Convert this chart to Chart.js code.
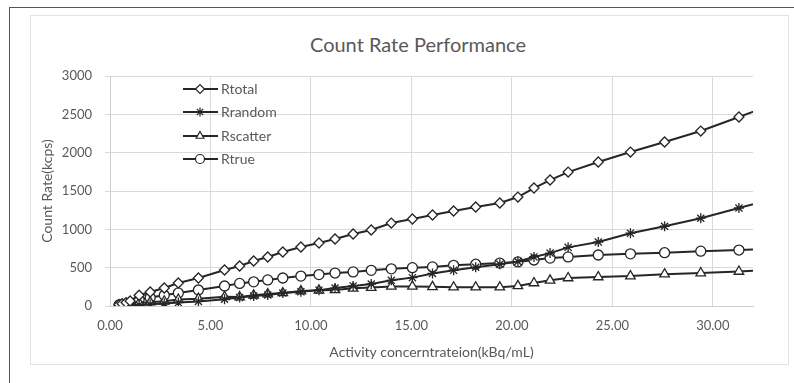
<!DOCTYPE html>
<html>
<head>
<meta charset="utf-8">
<script src="https://cdn.jsdelivr.net/npm/chart.js@4.4.1/dist/chart.umd.min.js"></script>
<style>
    html, body { margin: 0; padding: 0; background: #fff; }
    #wrap { position: relative; width: 794px; height: 383px; overflow: hidden; }
    #outer { position: absolute; left: 9px; top: 7px; width: 800px; height: 400px; border-top: 1px solid #555; border-left: 1px solid #555; }
    #inner { position: absolute; left: 30px; top: 15px; width: 757px; height: 348px; border: 1px solid #e2e2e2; }
    #title { position: absolute; left: 0; top: 32px; width: 836px; text-align: center; font: 20px Lato, sans-serif; color: #595959; }
    canvas { position: absolute; left: 0; top: 0; }
</style>
</head>
<body>
<div id="wrap">
    <div id="outer"></div>
    <div id="inner"></div>
    <div id="title">Count Rate Performance</div>
    <canvas id="chart" width="794" height="383"></canvas>
</div>
<script>
// --- Data (kBq/mL, kcps) ---
const activity = [0.45, 0.6, 0.8, 1.0, 1.45, 2.0, 2.7, 3.4, 4.4, 5.7, 6.45, 7.15, 7.85, 8.6, 9.5, 10.4, 11.2, 12.1, 13.0, 14.0,
    15.05, 16.05, 17.1, 18.2, 19.4, 20.3, 21.1, 21.9, 22.8, 24.3, 25.9, 27.6, 29.4, 31.3, 33.0];
const rTotal = [20, 30, 45, 65, 140, 183, 235, 300, 365, 469, 522, 587, 639, 704, 769, 822, 874, 939, 991, 1082,
    1135, 1187, 1239, 1291, 1343, 1421, 1539, 1643, 1747, 1878, 2008, 2139, 2282, 2465, 2630];
const rRandom = [2, 3, 5, 7, 14, 22, 33, 45, 60, 88, 110, 130, 143, 168, 185, 207, 234, 262, 287, 335,
    370, 425, 465, 505, 545, 580, 640, 690, 765, 835, 950, 1040, 1145, 1278, 1395];
const rScatter = [5, 8, 12, 17, 40, 50, 62, 85, 96, 120, 117, 140, 155, 170, 195, 205, 210, 230, 240, 255,
    255, 250, 245, 245, 245, 262, 300, 335, 365, 378, 390, 415, 430, 450, 470];
const rTrue = [13, 19, 28, 40, 85, 110, 140, 170, 209, 261, 295, 315, 340, 365, 390, 410, 430, 445, 465, 485,
    500, 510, 530, 545, 560, 575, 600, 625, 640, 665, 680, 695, 715, 730, 745];

const seriesNames = ['Rtotal', 'Rrandom', 'Rscatter', 'Rtrue'];
const seriesValues = [rTotal, rRandom, rScatter, rTrue];
const seriesMarkers = ['rectRot', 'star', 'triangle', 'circle'];

const xMin = 0, xMax = 32, xStep = 5;
const yMin = 0, yMax = 3000, yStep = 500;

const gray = '#595959';
const ink = '#262626';

// --- Legend drawn inside the plot ---
const insideLegend = {
    id: 'insideLegend',
    afterDatasetsDraw(chart) {
        const ctx = chart.ctx;
        const rows = [89, 112, 136, 159];
        ctx.save();
        chart.data.datasets.forEach((ds, i) => {
            const y = rows[i];
            ctx.strokeStyle = ink;
            ctx.lineWidth = 2;
            ctx.beginPath();
            ctx.moveTo(183, y);
            ctx.lineTo(218, y);
            ctx.stroke();
            ctx.fillStyle = '#fff';
            ctx.strokeStyle = ink;
            ctx.lineWidth = 1.2;
            Chart.helpers.drawPoint(ctx, { pointStyle: ds.pointStyle, radius: 4.5, borderWidth: 1.2 }, 200, y);
            ctx.fillStyle = gray;
            ctx.font = '14px Lato, sans-serif';
            ctx.textAlign = 'left';
            ctx.textBaseline = 'middle';
            ctx.fillText(ds.label, 221, y);
        });
        ctx.restore();
    }
};

const datasets = seriesNames.map((name, i) => ({
    label: name,
    data: activity.map((x, j) => ({ x: x, y: seriesValues[i][j] })),
    borderColor: ink,
    borderWidth: 2,
    pointStyle: seriesMarkers[i],
    pointRadius: seriesMarkers[i] === 'triangle' ? 5.5 : 5,
    pointBackgroundColor: '#fff',
    pointBorderColor: ink,
    pointBorderWidth: 1.3,
    showLine: true,
    tension: 0
}));

new Chart(document.getElementById('chart'), {
    type: 'scatter',
    data: { datasets },
    options: {
        responsive: false,
        animation: false,
        events: [],
        layout: { padding: { left: 30, top: 76, right: 41, bottom: 20 } },
        plugins: { legend: { display: false }, tooltip: { enabled: false } },
        scales: {
            x: {
                type: 'linear',
                min: xMin,
                max: xMax,
                afterFit: (s) => { s.height = 57; },
                grid: { color: '#d9d9d9', drawTicks: false },
                border: { color: '#d0d0d0' },
                ticks: {
                    stepSize: xStep,
                    includeBounds: false,
                    padding: 12,
                    color: gray,
                    font: { family: 'Lato', size: 13 },
                    callback: (v) => Number(v).toFixed(2)
                },
                title: {
                    display: true,
                    text: 'Activity concerntrateion(kBq/mL)',
                    color: gray,
                    font: { family: 'Lato', size: 14 },
                    padding: { top: 0, bottom: 2 }
                }
            },
            y: {
                min: yMin,
                max: yMax,
                afterFit: (s) => { s.width = 80; },
                grid: { color: '#d9d9d9', tickLength: 5 },
                border: { color: '#d0d0d0' },
                ticks: {
                    stepSize: yStep,
                    padding: 13,
                    color: gray,
                    font: { family: 'Lato', size: 13 },
                    callback: (v) => String(v)
                },
                title: {
                    display: true,
                    text: 'Count Rate(kcps)',
                    color: gray,
                    font: { family: 'Lato', size: 14 },
                    padding: { top: 9, bottom: 0 }
                }
            }
        }
    },
    plugins: [insideLegend]
});
</script>
</body>
</html>
